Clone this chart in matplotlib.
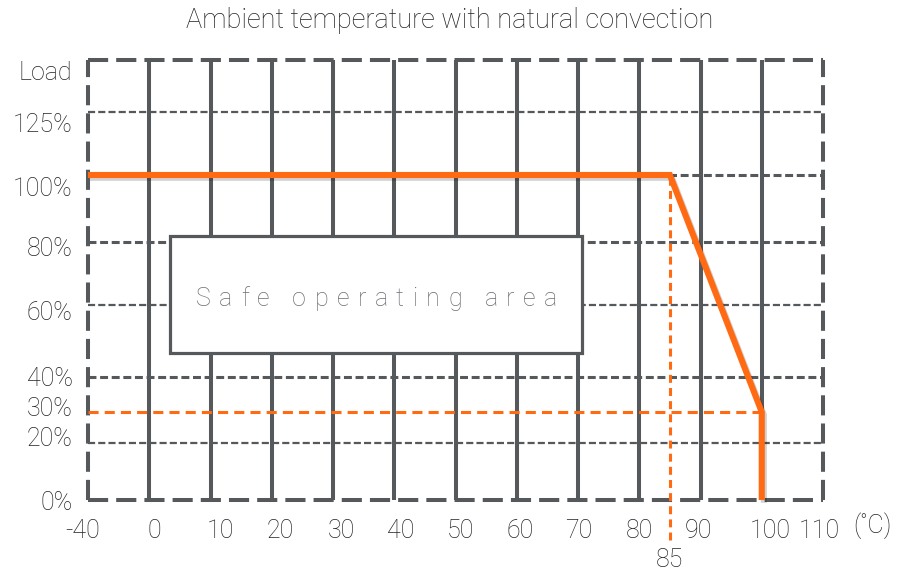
import numpy as np
import matplotlib
matplotlib.use('Agg')
import matplotlib.pyplot as plt
import matplotlib.patheffects as pe
from matplotlib.transforms import ScaledTranslation, blended_transform_factory
from matplotlib.patches import Rectangle

plt.rcParams['font.family'] = ['Roboto', 'DejaVu Sans']
plt.rcParams['font.weight'] = 'light'

# 데이터
temp_ticks = [-40, 0, 10, 20, 30, 40, 50, 60, 70, 80, 90, 100, 110]
load_ticks = [0, 20, 30, 40, 60, 80, 100, 125]
load_labels = ['0%', '20%', '30%', '40%', '60%', '80%', '100%', '125%']
grid_thick = [100, 80, 40]
grid_thin = [125, 60, 20]
vgrid = [0, 10, 20, 30, 40, 50, 60, 70, 80, 90, 100]

# derating curve
curve_temp = [-40, 85, 100, 100]
curve_load = [100, 100, 30, 0]
knee_temp = 85
end_load = 30
end_temp = 100

GRAY = '#55595c'
ORANGE = '#ff6a13'
TXT = '#222222'

# 축 스케일 (그림에서 간격이 균일하지 않음)
yv = [0, 20, 30, 40, 60, 80, 100, 125, 145]
yp = [0, 57, 88, 123, 195, 258, 325, 388, 440]


def xf(t):
    t = np.asarray(t, dtype=float)
    return np.where(t < 0, t / 4, t)


def xi(u):
    u = np.asarray(u, dtype=float)
    return np.where(u < 0, u * 4, u)


def yf(v):
    return np.interp(v, yv, yp)


def yi(p):
    return np.interp(p, yp, yv)


fig = plt.figure(figsize=(8.99, 5.74), dpi=100)
ax = fig.add_axes([88 / 899, 74 / 574, 735 / 899, 440 / 574])
ax.set_xscale('function', functions=(xf, xi))
ax.set_yscale('function', functions=(yf, yi))
ax.set_xlim(-40, 110)
ax.set_ylim(0, 145)

# grid
ax.vlines(vgrid, 0, 145, color=GRAY, lw=2.9, zorder=1)
ax.hlines(grid_thick, -40, 110, color=GRAY, lw=2.2, linestyles=(0, (2.6, 1.2)), zorder=1, clip_on=False)
ax.hlines(grid_thin, -40, 110, color=GRAY, lw=1.6, linestyles=(0, (3.2, 1.4)), zorder=1, clip_on=False)

# frame
for s in ax.spines.values():
    s.set_linestyle((0, (5, 2)))
    s.set_linewidth(2.9)
    s.set_color(GRAY)
    s.set_capstyle('butt')

# safe operating area box
box = Rectangle((0.1116, 0.334), 0.5605, 0.266, transform=ax.transAxes,
                facecolor='white', edgecolor=GRAY, lw=2.3, zorder=3)
ax.add_patch(box)

# 글자 간격 넓게 (letter-spacing)
label = 'Safe operating area'
renderer = fig.canvas.get_renderer()


def text_w(s):
    t = fig.text(0, 0, s, fontsize=18)
    w = t.get_window_extent(renderer).width
    t.remove()
    return w


bar_w = text_w('|')
adv = [text_w(label[:k] + '|') - bar_w if k else 0 for k in range(len(label) + 1)]
target_w = 361
track = (target_w - adv[-1]) / (len(label) - 1)
x0 = 376.5 - target_w / 2
for k, ch in enumerate(label):
    if ch == ' ':
        continue
    fig.text((x0 + adv[k] + k * track) / 899, 1 - 299 / 574, ch, fontsize=18,
             ha='left', va='center', color='#6a6d72', zorder=4)

# orange dashed guides
ax.hlines(end_load, -40, end_temp, color=ORANGE, lw=2.2, linestyles=(0, (3.3, 2.0)), zorder=4)
fig.canvas.draw()
top_frac = ax.transAxes.inverted().transform(ax.transData.transform((knee_temp, 100)))[1]
ax.axvline(knee_temp, ymin=-0.09, ymax=top_frac, color=ORANGE, lw=2.2,
           linestyle=(0, (2.6, 1.7)), zorder=4, clip_on=False)

# curve
ax.plot(curve_temp, curve_load, color=ORANGE, lw=4.4, zorder=5,
        solid_capstyle='butt', solid_joinstyle='miter', clip_on=False,
        path_effects=[pe.SimpleLineShadow(offset=(1.5, -2), shadow_color='k', alpha=0.18),
                      pe.Normal()])

# ticks
ax.set_xticks(temp_ticks, [str(t) for t in temp_ticks])
ax.set_yticks(load_ticks, load_labels)
ax.minorticks_off()
ax.tick_params(axis='both', length=0, labelsize=18, labelcolor=TXT)
ax.tick_params(axis='x', pad=14)
ax.tick_params(axis='y', pad=11)

y_shift = [0, -6, -6, -1, 6, 5, 11, 10]
for lab, d in zip(ax.get_yticklabels(), y_shift):
    lab.set_transform(lab.get_transform() + ScaledTranslation(0, -d / 100, fig.dpi_scale_trans))
x_shift = [-5, 5, 10, 9, 8, 6, 5, 3, 1, 0, -2, 9, -4]
for lab, d in zip(ax.get_xticklabels(), x_shift):
    lab.set_transform(lab.get_transform() + ScaledTranslation(d / 100, 0, fig.dpi_scale_trans))

ax.text(-0.0218, 0.9705, 'Load', transform=ax.transAxes, ha='right', va='center',
        fontsize=18, color=TXT)
ax.text(1.0667, -0.058, '(˚C)', transform=ax.transAxes, ha='center', va='center',
        fontsize=18, color=TXT)
tr = blended_transform_factory(ax.transData, ax.transAxes)
ax.text(knee_temp, -0.136, str(knee_temp), transform=tr, ha='center', va='center',
        fontsize=18, color=TXT)

fig.text(0.5, 1 - 20 / 574, 'Ambient temperature with natural convection',
         ha='center', va='center', fontsize=19.5, color=TXT)

fig.savefig('out.png', dpi=100)
